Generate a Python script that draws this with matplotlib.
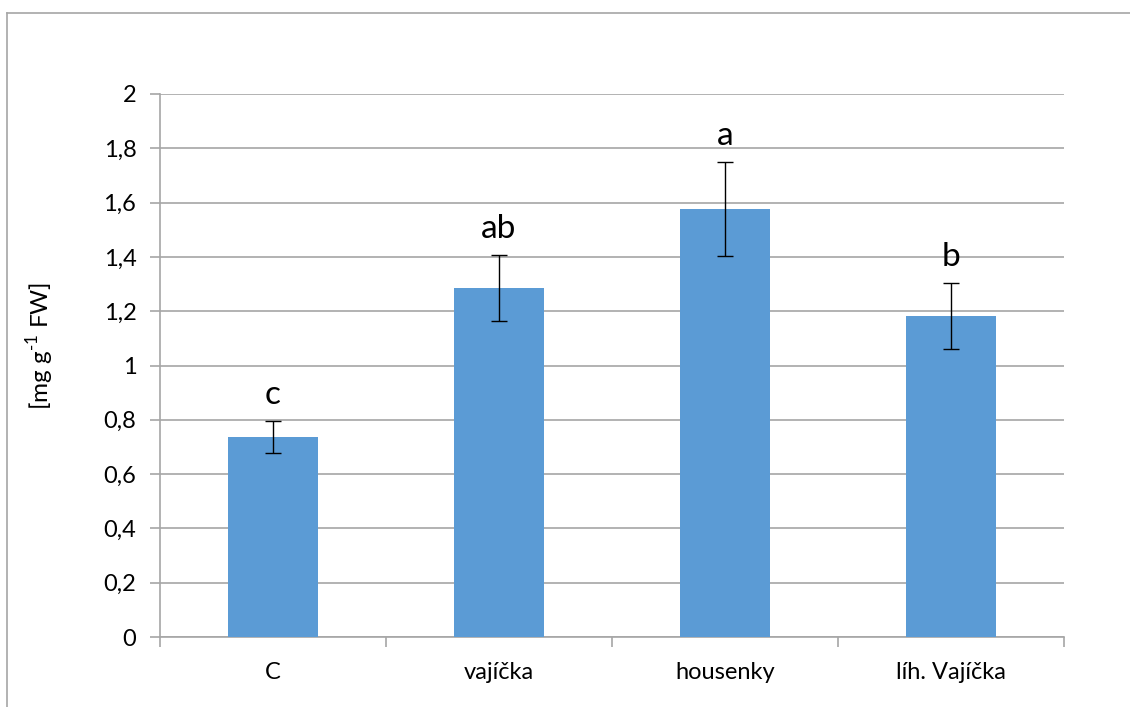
import matplotlib.pyplot as plt
from matplotlib.lines import Line2D
from matplotlib.ticker import FuncFormatter

plt.rcParams['font.family'] = ['Lato', 'DejaVu Sans']
plt.rcParams['mathtext.fontset'] = 'custom'
plt.rcParams['mathtext.rm'] = 'Lato'

categories = ['C', 'vajíčka', 'housenky', 'líh. Vajíčka']
values = [0.737, 1.286, 1.577, 1.183]
errors = [0.058, 0.121, 0.173, 0.121]
letters = ['c', 'ab', 'a', 'b']

fig = plt.figure(figsize=(11.3, 7.07), dpi=100)
ax = fig.add_axes([160 / 1130, 1 - 637 / 707, 904 / 1130, 543 / 707])

x = list(range(len(categories)))
ax.bar(x, values, width=0.4, color='#5b9bd5', zorder=3)
ax.errorbar(x, values, yerr=errors, fmt='none', ecolor='black',
            elinewidth=1.0, capsize=6, capthick=1.0, zorder=4)

for xi, v, e, lab in zip(x, values, errors, letters):
    ax.annotate(lab, (xi, v + e), xytext=(0, 12), textcoords='offset points',
                ha='center', va='baseline', fontsize=24)

ax.set_xlim(-0.5, len(categories) - 0.5)
ax.set_ylim(0, 2)
ax.set_yticks([i * 0.2 for i in range(11)])
ax.yaxis.set_major_formatter(FuncFormatter(
    lambda v, p: ('%g' % round(v, 1)).replace('.', ',')))
ax.set_xticks(x)
ax.set_xticklabels(categories)
ax.set_xticks([i - 0.5 for i in range(len(categories) + 1)], minor=True)

ax.grid(axis='y', color='#a6a6a6', linewidth=1.2, zorder=0)
for side in ['top', 'right']:
    ax.spines[side].set_visible(False)
for side in ['left', 'bottom']:
    ax.spines[side].set_color('#a6a6a6')
    ax.spines[side].set_linewidth(1.2)

ax.tick_params(axis='y', length=7, width=1.2, color='#a6a6a6',
               labelsize=17, pad=10)
ax.tick_params(axis='x', which='major', length=0, labelsize=17, pad=18)
ax.tick_params(axis='x', which='minor', length=7, width=1.2, color='#a6a6a6')

ax.set_ylabel('[mg g$^{\\text{-1}}$ FW]', fontsize=17.5)
ax.yaxis.set_label_coords(-0.115, 0.536)

# chart area border (only partly visible in the crop)
fig.add_artist(Line2D([7 / 1130, 7 / 1130], [0, 1 - 13 / 707],
                      transform=fig.transFigure, color='#a6a6a6', lw=1.2))
fig.add_artist(Line2D([7 / 1130, 1], [1 - 13 / 707, 1 - 13 / 707],
                      transform=fig.transFigure, color='#a6a6a6', lw=1.2))

fig.savefig('out.png', dpi=100)
